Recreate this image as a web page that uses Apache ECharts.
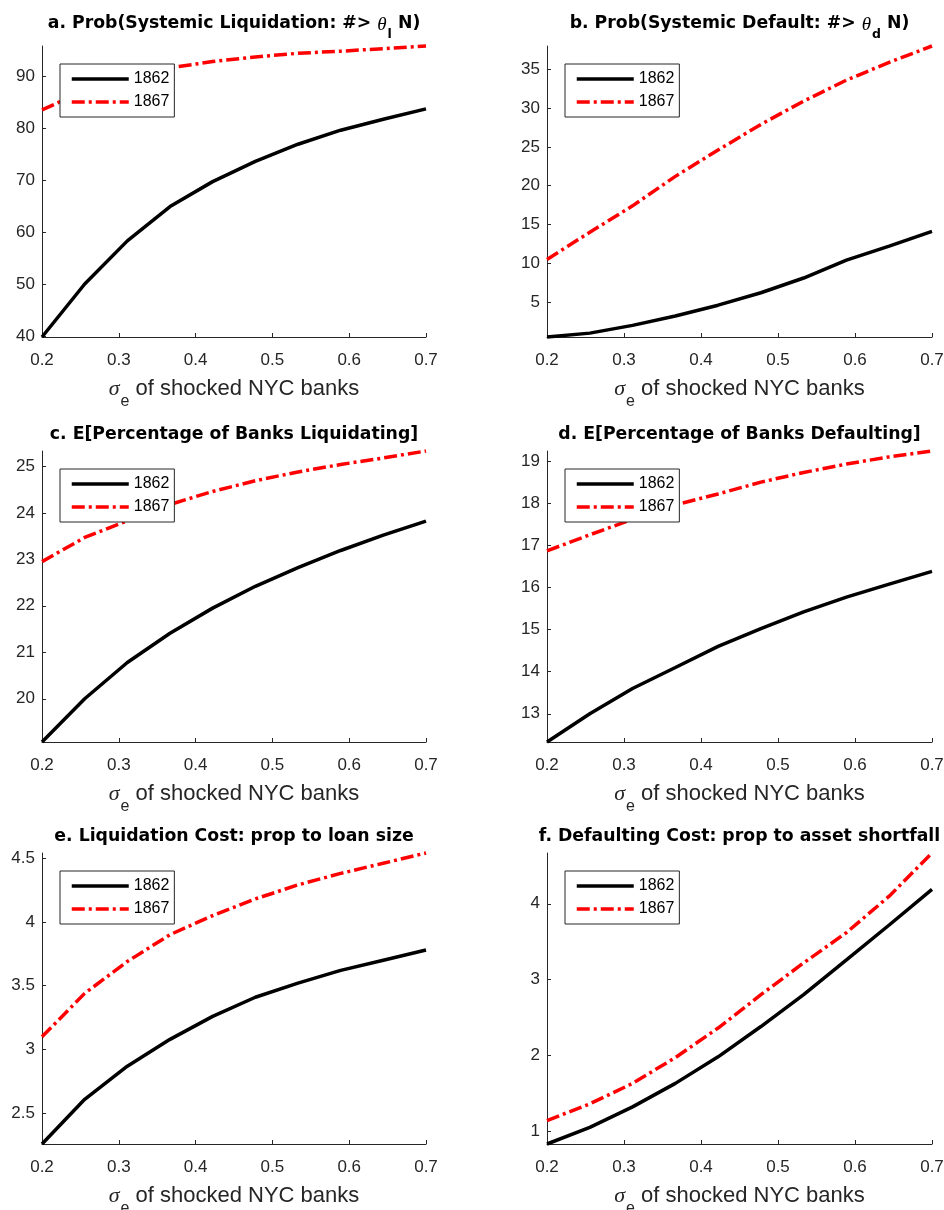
<!DOCTYPE html>
<html>
<head>
<meta charset="utf-8">
<script src="https://cdn.jsdelivr.net/npm/echarts@6/dist/echarts.min.js"></script>
<style>
  html, body { margin: 0; padding: 0; background: #fff; }
  #chart { width: 944px; height: 1210px; }
</style>
</head>
<body>
<div id="chart"></div>
<script>
// sigma_e grid shared by all six panels
const sigma = [0.2, 0.2556, 0.3111, 0.3667, 0.4222, 0.4778, 0.5333, 0.5889, 0.6444, 0.7]
const xTicks = [0.2, 0.3, 0.4, 0.5, 0.6, 0.7]
const seriesNames = ['1862', '1867']

// a. systemic liquidation probability
const liqProb1862 = [39.9, 50.1, 58.4, 65.0, 69.8, 73.7, 77.0, 79.7, 81.8, 83.8]
const liqProb1867 = [83.6, 87.3, 89.9, 91.7, 92.9, 93.8, 94.5, 94.9, 95.4, 95.9]
const liqProbTicks = [40, 50, 60, 70, 80, 90]

// b. systemic default probability
const defProb1862 = [0.5, 1.0, 2.0, 3.2, 4.6, 6.2, 8.1, 10.4, 12.2, 14.1]
const defProb1867 = [10.5, 14.0, 17.4, 21.2, 24.6, 27.9, 30.9, 33.6, 35.9, 38.0]
const defProbTicks = [5, 10, 15, 20, 25, 30, 35]

// c. expected % of banks liquidating
const liqPct1862 = [19.07, 20.0, 20.78, 21.41, 21.95, 22.42, 22.82, 23.19, 23.52, 23.82]
const liqPct1867 = [22.95, 23.47, 23.83, 24.18, 24.46, 24.69, 24.88, 25.04, 25.18, 25.33]
const liqPctTicks = [20, 21, 22, 23, 24, 25]

// d. expected % of banks defaulting
const defPct1862 = [12.33, 13.0, 13.6, 14.1, 14.6, 15.02, 15.42, 15.77, 16.08, 16.38]
const defPct1867 = [16.87, 17.25, 17.62, 17.96, 18.22, 18.5, 18.73, 18.93, 19.1, 19.24]
const defPctTicks = [13, 14, 15, 16, 17, 18, 19]

// e. liquidation cost
const liqCost1862 = [2.26, 2.61, 2.87, 3.08, 3.26, 3.41, 3.52, 3.62, 3.70, 3.78]
const liqCost1867 = [3.1, 3.44, 3.69, 3.9, 4.05, 4.18, 4.29, 4.38, 4.46, 4.54]
const liqCostTicks = [2.5, 3, 3.5, 4, 4.5]

// f. defaulting cost
const defCost1862 = [0.83, 1.05, 1.32, 1.63, 1.98, 2.38, 2.8, 3.26, 3.72, 4.19]
const defCost1867 = [1.14, 1.36, 1.63, 1.97, 2.36, 2.8, 3.22, 3.62, 4.1, 4.67]
const defCostTicks = [1, 2, 3, 4]

const panels = [
  { title: '{t|a. Prob(Systemic Liquidation: #> }{th|θ}{sub|l}{t| N)}', lines: [liqProb1862, liqProb1867], ticks: liqProbTicks, sub: true },
  { title: '{t|b. Prob(Systemic Default: #> }{th|θ}{sub|d}{t| N)}', lines: [defProb1862, defProb1867], ticks: defProbTicks, sub: true },
  { title: '{t|c. E[Percentage of Banks Liquidating]}', lines: [liqPct1862, liqPct1867], ticks: liqPctTicks },
  { title: '{t|d. E[Percentage of Banks Defaulting]}', lines: [defPct1862, defPct1867], ticks: defPctTicks },
  { title: '{t|e. Liquidation Cost: prop to loan size}', lines: [liqCost1862, liqCost1867], ticks: liqCostTicks },
  { title: '{t|f. Defaulting Cost: prop to asset shortfall}', lines: [defCost1862, defCost1867], ticks: defCostTicks }
]

const fontFamily = '"Liberation Sans", Arial, Helvetica, sans-serif'
const titleFamily = '"DejaVu Sans", "Liberation Sans", sans-serif'
const serifFamily = '"Liberation Serif", "Times New Roman", serif'
const axisColor = '#262626'
const colLeft = [42, 547]
const colWidth = [384, 385]
const rowTop = [46, 451, 853]
const rowHeight = 291

const titleRich = {
  t: { fontFamily: titleFamily, fontSize: 17.3, fontWeight: 'bold', color: '#000', lineHeight: 22, verticalAlign: 'top' },
  th: { fontFamily: serifFamily, fontStyle: 'italic', fontWeight: 'normal', fontSize: 19, color: '#000', lineHeight: 22, verticalAlign: 'top' },
  sub: { fontFamily: titleFamily, fontSize: 12.5, fontWeight: 'bold', color: '#000', lineHeight: 13, padding: [13, 0, 0, 1], verticalAlign: 'top' }
}
const nameRich = {
  s: { fontFamily: serifFamily, fontStyle: 'italic', fontSize: 22, color: axisColor, lineHeight: 26, verticalAlign: 'top' },
  sub: { fontFamily, fontSize: 16, color: axisColor, lineHeight: 16, padding: [16, 0, 0, 1], verticalAlign: 'top' },
  t: { fontFamily, fontSize: 22, color: axisColor, lineHeight: 26, verticalAlign: 'top' }
}

const grid = [], xAxis = [], yAxis = [], series = [], title = [], legend = []

panels.forEach((p, i) => {
  const left = colLeft[i % 2]
  const width = colWidth[i % 2]
  const top = rowTop[Math.floor(i / 2)]
  const all = p.lines[0].concat(p.lines[1])

  // fixed pixel box: labels may run past the canvas edge like in the original
  grid.push({ left, top, width, height: rowHeight, containLabel: false, outerBoundsMode: 'none' })

  xAxis.push({
    type: 'value',
    gridIndex: i,
    min: sigma[0],
    max: sigma[sigma.length - 1],
    axisLine: { show: true, onZero: false, lineStyle: { color: axisColor, width: 1 } },
    axisTick: { show: true, inside: true, length: 4, customValues: xTicks, lineStyle: { color: axisColor } },
    axisLabel: { customValues: xTicks, margin: 15, fontFamily, fontSize: 17, color: axisColor, formatter: v => v.toFixed(1) },
    splitLine: { show: false },
    name: '{s|σ}{sub|e}{t| of shocked NYC banks}',
    nameLocation: 'middle',
    nameGap: 41,
    nameTextStyle: { rich: nameRich }
  })

  yAxis.push({
    type: 'value',
    gridIndex: i,
    min: Math.min(...all),
    max: Math.max(...all),
    axisLine: { show: true, onZero: false, lineStyle: { color: axisColor, width: 1 } },
    axisTick: { show: true, inside: true, length: 4, customValues: p.ticks, lineStyle: { color: axisColor } },
    axisLabel: { customValues: p.ticks, margin: 7, fontFamily, fontSize: 17, color: axisColor },
    splitLine: { show: false }
  })

  title.push({
    text: p.title,
    left: left + width / 2,
    top: p.sub ? top - 31 : top - 24.5,
    textAlign: 'center',
    textVerticalAlign: 'top',
    padding: 0,
    textStyle: { rich: titleRich }
  })

  legend.push({
    data: seriesNames,
    orient: 'vertical',
    left: left + 18,
    top: top + 18,
    padding: [7, 5, 7, 10],
    itemGap: 7,
    itemWidth: 57,
    itemHeight: 16,
    backgroundColor: '#fff',
    borderColor: axisColor,
    borderWidth: 1,
    borderRadius: 0,
    selectedMode: false,
    itemStyle: { opacity: 0 },
    lineStyle: { width: 3.5 },
    textStyle: { fontFamily, fontSize: 16, color: '#000' }
  })

  series.push({
    name: seriesNames[0],
    type: 'line',
    xAxisIndex: i,
    yAxisIndex: i,
    data: sigma.map((x, j) => [x, p.lines[0][j]]),
    symbol: 'none',
    clip: false,
    itemStyle: { color: '#000' },
    lineStyle: { color: '#000', width: 3.5 }
  })
  series.push({
    name: seriesNames[1],
    type: 'line',
    xAxisIndex: i,
    yAxisIndex: i,
    data: sigma.map((x, j) => [x, p.lines[1][j]]),
    symbol: 'none',
    clip: false,
    itemStyle: { color: '#ff0000' },
    lineStyle: { color: '#ff0000', width: 3.5, type: [13, 4, 3, 4] }
  })
})

const chart = echarts.init(document.getElementById('chart'))
chart.setOption({
  animation: false,
  backgroundColor: '#fff',
  title,
  legend,
  grid,
  xAxis,
  yAxis,
  series
})
</script>
</body>
</html>
